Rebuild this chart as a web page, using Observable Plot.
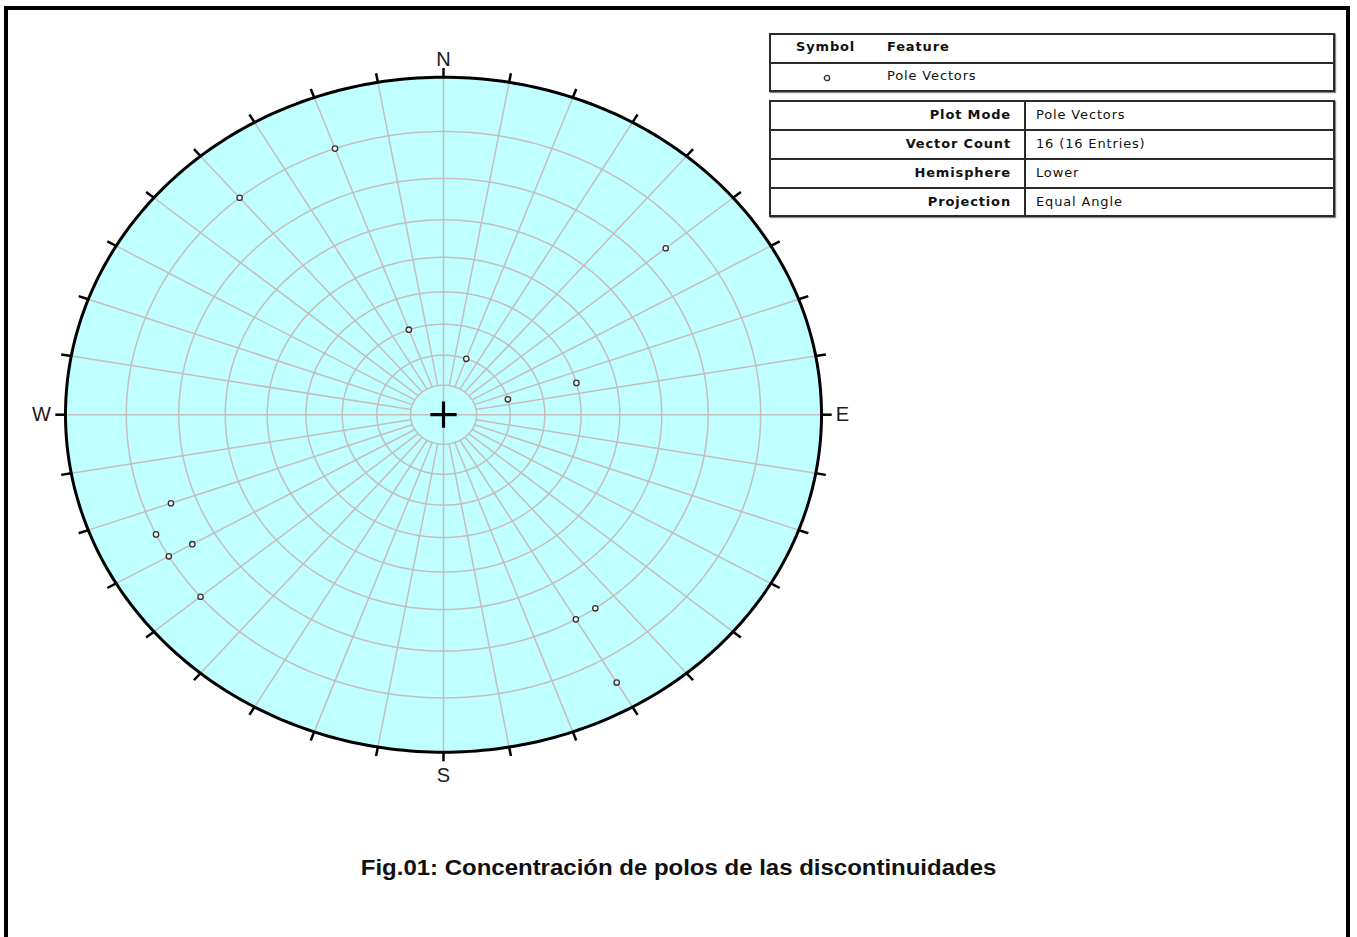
<!DOCTYPE html>
<html>
<head>
<meta charset="utf-8">
<script src="https://cdn.jsdelivr.net/npm/d3@7"></script>
<script src="https://cdn.jsdelivr.net/npm/@observablehq/plot@0.6"></script>
<style>
  html, body { margin: 0; padding: 0; background: #fff; overflow: hidden; }
  #page { position: relative; width: 1357px; height: 937px; overflow: hidden; }
  #frame { position: absolute; left: 4px; top: 6px; width: 1338px; height: 1000px; border: 4px solid #000; }
  #chart { position: absolute; left: 0; top: 0; }
  .tbl { position: absolute; left: 769px; width: 562px; border: 2px solid #2b2b2b; box-shadow: 1px 1px 1px #888;
         font-family: "DejaVu Sans", Verdana, sans-serif; font-size: 13px; letter-spacing: 0.85px; color: #111; }
  .row { position: absolute; left: 0; right: 0; border-top: 2px solid #2b2b2b; }
  .cell { position: absolute; white-space: nowrap; }
  .b { font-weight: bold; }
  #caption { position: absolute; left: 0; width: 1357px; top: 855px; line-height: 26px; text-align: center; }
  #caption span { display: inline-block; transform: scaleX(1.09); transform-origin: center;
             font-family: "Liberation Sans", Arial, sans-serif; font-weight: bold; font-size: 22px; color: #111; }
</style>
</head>
<body>
<div id="page">
  <div id="frame"></div>
  <div id="chart"></div>
  <div id="legend"></div>
  <div id="caption"><span></span></div>
</div>
<script>
// ---- Data: poles (trend / plunge, degrees), lower hemisphere, equal angle ----
const poleTrend  = [340, 320, 50, 340, 20, 75, 75, 250, 245, 240, 240, 230, 145, 150, 150];
const polePlunge = [10, 10, 15, 60, 70, 50, 70, 15, 10, 15, 10, 10, 20, 20, 5];

// grid definition
const gridDips = [10, 20, 30, 40, 50, 60, 70, 80];
const gridAzimuths = d3.range(0, 360, 10);
const tickAzimuths = d3.range(0, 360, 10);
const compassLabels = ["N", "E", "S", "W"];
const compassAzimuths = [0, 90, 180, 270];

// legend / info table texts
const legendHeader = ["Symbol", "Feature"];
const legendFeature = "Pole Vectors";
const infoLabels = ["Plot Mode", "Vector Count", "Hemisphere", "Projection"];
const infoValues = ["Pole Vectors", "16 (16 Entries)", "Lower", "Equal Angle"];
const captionText = "Fig.01: Concentración de polos de las discontinuidades";

// ---- projection helpers (equal angle / stereographic) ----
const rad = Math.PI / 180;
const stereoR = plunge => Math.tan((90 - plunge) / 2 * rad);
const px = (az, r) => r * Math.sin(az * rad);
const py = (az, r) => r * Math.cos(az * rad);

const poles = poleTrend.map((t, i) => {
  const r = stereoR(polePlunge[i]);
  return {x: px(t, r), y: py(t, r)};
});

const circleAz = d3.range(0, 361, 1);
const outer = circleAz.map(a => ({x: px(a, 1), y: py(a, 1)}));
const gridCircles = gridDips.flatMap(d => {
  const r = stereoR(d);
  return circleAz.map(a => ({d, x: px(a, r), y: py(a, r)}));
});
const rInner = stereoR(80);
const radials = gridAzimuths.map(a => {
  const r0 = (a % 90 === 0) ? 0 : rInner;
  return {x1: px(a, r0), y1: py(a, r0), x2: px(a, 1), y2: py(a, 1)};
});
const ticks = tickAzimuths.map(a => ({x1: px(a, 1), y1: py(a, 1), x2: px(a, 1.027), y2: py(a, 1.027)}));
const compass = compassLabels.map((label, i) => ({label, az: compassAzimuths[i], x: px(compassAzimuths[i], 1), y: py(compassAzimuths[i], 1)}));
const labelOffsets = {N: [0, -18], E: [21, 0], S: [0, 23], W: [-24, 0]};

const gridColor = "#c6bdbd";

const plot = Plot.plot({
  width: 900,
  height: 830,
  marginLeft: 65,
  marginRight: 79,
  marginTop: 76.7,
  marginBottom: 78.3,
  x: {domain: [-1, 1], axis: null},
  y: {domain: [-1, 1], axis: null},
  style: {background: "transparent", overflow: "visible"},
  marks: [
    Plot.line(outer, {x: "x", y: "y", fill: "#bfffff", stroke: "none"}),
    Plot.line(gridCircles, {x: "x", y: "y", z: "d", stroke: gridColor, strokeWidth: 1.5}),
    Plot.link(radials, {x1: "x1", y1: "y1", x2: "x2", y2: "y2", stroke: gridColor, strokeWidth: 1.5}),
    Plot.link(ticks, {x1: "x1", y1: "y1", x2: "x2", y2: "y2", stroke: "#000", strokeWidth: 2.5}),
    Plot.line(outer, {x: "x", y: "y", stroke: "#000", strokeWidth: 3}),
    Plot.dot([{x: 0, y: 0}], {x: "x", y: "y", symbol: "plus", r: 8.5, stroke: "#000", strokeWidth: 3.2}),
    Plot.dot(poles, {x: "x", y: "y", r: 2.7, fill: "#f0f0f0", stroke: "#333", strokeWidth: 1.3}),
    ...compass.map(c => Plot.text([c], {
      x: "x", y: "y", text: "label",
      dx: labelOffsets[c.label][0], dy: labelOffsets[c.label][1],
      fontSize: 20, fontFamily: "Liberation Sans, Arial, sans-serif", fill: "#1a1a1a"
    }))
  ]
});
document.getElementById("chart").appendChild(plot);

// ---- legend tables ----
const leg = document.getElementById("legend");
const t1 = document.createElement("div");
t1.className = "tbl";
t1.style.top = "33px"; t1.style.height = "55px";
t1.innerHTML = `
  <div class="cell b" style="left:25px;top:4px;">${legendHeader[0]}</div>
  <div class="cell b" style="left:116px;top:4px;">${legendHeader[1]}</div>
  <div class="row" style="top:27px;height:28px;">
    <svg class="cell" style="left:51px;top:9px;" width="10" height="10"><circle cx="5" cy="5" r="2.7" fill="#f0f0f0" stroke="#333" stroke-width="1.3"/></svg>
    <div class="cell" style="left:116px;top:4px;">${legendFeature}</div>
  </div>`;
leg.appendChild(t1);

const t2 = document.createElement("div");
t2.className = "tbl";
t2.style.top = "100px"; t2.style.height = "113px";
let html = `<div style="position:absolute;left:253px;top:0;bottom:0;border-left:2px solid #2b2b2b;"></div>`;
infoLabels.forEach((lab, i) => {
  const top = i * 29;
  const border = i === 0 ? "border-top:none;" : "";
  html += `<div class="row" style="top:${top - (i === 0 ? 0 : 2)}px;height:29px;${border}">
    <div class="cell b" style="right:322px;top:5px;">${lab}</div>
    <div class="cell" style="left:265px;top:5px;">${infoValues[i]}</div>
  </div>`;
});
t2.innerHTML = html;
leg.appendChild(t2);

document.querySelector("#caption span").textContent = captionText;
</script>
</body>
</html>
